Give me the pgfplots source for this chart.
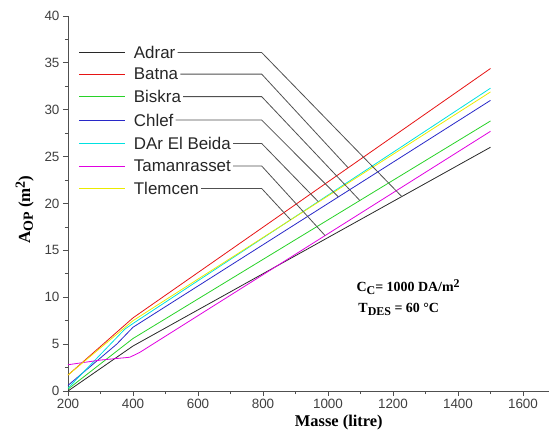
\documentclass[border=0pt]{standalone}
\usepackage{fontspec}
\setmainfont{Liberation Serif}
\setsansfont{Liberation Sans}
\usepackage{pgfplots}
\pgfplotsset{compat=1.18}

\definecolor{cAdrar}{RGB}{40,40,40}
\definecolor{cBatna}{RGB}{230,20,20}
\definecolor{cBiskra}{RGB}{40,210,40}
\definecolor{cChlef}{RGB}{40,40,200}
\definecolor{cDar}{RGB}{0,225,225}
\definecolor{cTam}{RGB}{225,0,225}
\definecolor{cTlem}{RGB}{235,235,0}
\definecolor{axgray}{RGB}{80,80,80}

\newcommand{\sbs}[2]{\raisebox{-0.35ex}{\fontsize{#1}{#1}\selectfont #2}}
\newcommand{\sps}[2]{\raisebox{0.65ex}{\fontsize{#1}{#1}\selectfont #2}}

\begin{document}
\begin{tikzpicture}
\begin{axis}[
    scale only axis,
    width=481bp, height=375bp,
    xmin=200, xmax=1680,
    ymin=0, ymax=40,
    axis x line=bottom, axis y line=left,
    axis line style={-, axgray, line width=0.8bp},
    xtick={200,400,...,1600},
    ytick={0,5,...,40},
    minor x tick num=1, minor y tick num=1,
    tick align=outside,
    major tick length=5bp, minor tick length=3bp,
    every tick/.style={axgray, line width=0.8bp},
    ticklabel style={font=\sffamily\fontsize{13.5}{13.5}\selectfont, text=black!75},
    /pgf/number format/assume math mode=true,
    /pgf/number format/1000 sep={},
    xlabel={\bfseries\fontsize{16.5}{16.5}\selectfont Masse (litre)},
    xlabel style={at={(axis description cs:0.563,-0.085)}, anchor=center},
    ylabel={\bfseries\fontsize{17}{17}\selectfont A\sbs{14}{OP} (m\sps{14}{2})},
    ylabel style={at={(axis description cs:-0.090,0.484)}, anchor=center, rotate=0},
    clip=false,
    every axis plot/.append style={line width=0.8bp},
]
% Adrar
\addplot[cAdrar] coordinates {(200,0) (400,4.8) (1500,26.0)};
% Batna
\addplot[cBatna] coordinates {(200,1.7) (400,7.8) (1500,34.4)};
% Biskra
\addplot[cBiskra] coordinates {(200,0.2) (400,5.6) (1500,28.8)};
% Chlef
\addplot[cChlef] coordinates {(200,0.6) (350,5.0) (400,6.8) (1500,31.0)};
% DAr El Beida
\addplot[cDar] coordinates {(200,0.3) (375,6.6) (400,7.2) (1500,32.3)};
% Tamanrasset
\addplot[cTam] coordinates {(200,2.8) (300,3.3) (390,3.6) (420,4.1) (1500,27.7)};
% Tlemcen
\addplot[cTlem] coordinates {(200,1.7) (400,7.5) (1500,31.9)};

% legend with leader lines
\begin{scope}[every node/.style={anchor=west, inner sep=2bp, text=black!85,
    font=\sffamily\fontsize{17}{17}\selectfont}]
\draw[cAdrar, line width=0.9bp] (axis cs:234,36.1) -- (axis cs:375,36.1);
\node (n1) at (axis cs:396,36.1) {Adrar};
\draw[cBatna, line width=0.9bp] (axis cs:234,33.8) -- (axis cs:375,33.8);
\node (n2) at (axis cs:396,33.8) {Batna};
\draw[cBiskra, line width=0.9bp] (axis cs:234,31.4) -- (axis cs:375,31.4);
\node (n3) at (axis cs:396,31.4) {Biskra};
\draw[cChlef, line width=0.9bp] (axis cs:234,28.9) -- (axis cs:375,28.9);
\node (n4) at (axis cs:396,28.9) {Chlef};
\draw[cDar, line width=0.9bp] (axis cs:234,26.4) -- (axis cs:375,26.4);
\node (n5) at (axis cs:396,26.4) {DAr El Beida};
\draw[cTam, line width=0.9bp] (axis cs:234,24.0) -- (axis cs:375,24.0);
\node (n6) at (axis cs:396,24.0) {Tamanrasset};
\draw[cTlem, line width=0.9bp] (axis cs:234,21.6) -- (axis cs:375,21.6);
\node (n7) at (axis cs:396,21.6) {Tlemcen};
\end{scope}
\begin{scope}[axgray, line width=0.8bp]
\draw (n1.east) -- (axis cs:796,36.1) -- (axis cs:1227,20.74);
\draw (n2.east) -- (axis cs:796,33.8) -- (axis cs:1062,23.81);
\draw (n3.east) -- (axis cs:796,31.4) -- (axis cs:1098,20.32);
\draw (n4.east) -- (axis cs:796,28.9) -- (axis cs:1032,20.70);
\draw (n5.east) -- (axis cs:796,26.4) -- (axis cs:970,20.2);
\draw (n6.east) -- (axis cs:796,24.0) -- (axis cs:991,16.58);
\draw (n7.east) -- (axis cs:796,21.6) -- (axis cs:885,18.26);
\end{scope}

% annotation
\node[anchor=west, font=\bfseries\fontsize{14}{14}\selectfont] at (axis cs:1077,11.1)
    {C\sbs{12}{C}= 1000 DA/m\sps{12}{2}};
\node[anchor=west, font=\bfseries\fontsize{14}{14}\selectfont] at (axis cs:1083,8.7)
    {T\sbs{12}{DES} = 60 °C};
\end{axis}
\pgfresetboundingbox
\path (-68bp,-46bp) rectangle (481bp,391bp);
\end{tikzpicture}
\end{document}
